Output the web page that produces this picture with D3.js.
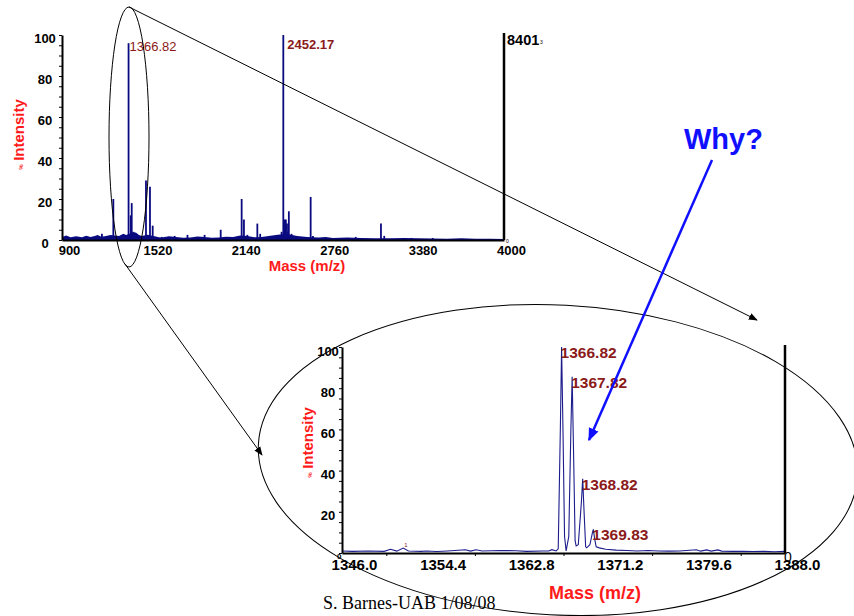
<!DOCTYPE html>
<html>
<head>
<meta charset="utf-8">
<script src="https://cdn.jsdelivr.net/npm/d3@7"></script>
<style>
  body { margin: 0; background: #fff; }
  svg { display: block; font-family: Arial, "Liberation Sans", sans-serif; }
</style>
</head>
<body>
<svg id="slide" width="854" height="616"></svg>
<script>
// full scan, stick peaks [m/z, % intensity]
var overviewPeaks = [
  [1180, 3], [1260, 20], [1366.82, 96], [1382, 12], [1389, 18], [1400, 4],
  [1410, 3.5], [1420, 3], [1489, 29], [1517, 26], [1536, 7], [1600, 1.5],
  [1690, 2], [1780, 2.5], [1900, 2.5], [2013, 5], [2160, 20], [2176, 10],
  [2200, 2.5], [2270, 8], [2290, 3], [2440, 4], [2452.17, 100], [2462, 10],
  [2470, 10], [2478, 8], [2485, 4], [2491, 14], [2510, 3], [2644, 21],
  [2660, 2], [2960, 1.5], [3137, 8], [3160, 2], [3350, 1], [3500, 1]
];
// baseline noise level along the scan
var overviewNoise = [
  [900, 1.5], [930, 2.2], [960, 1.4], [1000, 1.8], [1040, 1.3], [1070, 2.1],
  [1100, 1.5], [1130, 2.0], [1150, 2.5], [1175, 1.6], [1200, 1.8], [1240, 2.4],
  [1300, 2], [1330, 3.0], [1350, 2.5], [1400, 3.8], [1420, 3.5], [1440, 2.4],
  [1460, 2], [1500, 2.6], [1550, 1.8], [1580, 1.4], [1600, 1.2], [1650, 1.8],
  [1700, 1.5], [1750, 1.1], [1800, 1.2], [1850, 1.7], [1900, 1.5], [1950, 1.1],
  [2000, 1.2], [2050, 1.6], [2100, 1.5], [2150, 2.2], [2200, 2], [2250, 1.4],
  [2300, 1.5], [2350, 1.9], [2400, 2.5], [2470, 3.0], [2550, 2], [2620, 1.5],
  [2700, 1.2], [2750, 1.5], [2800, 1], [2900, 1.2], [3000, 1], [3100, 0.8],
  [3200, 0.8], [3300, 1.0], [3400, 0.8], [3500, 0.7], [3600, 0.6], [3700, 0.8],
  [3800, 0.6], [3900, 0.6], [4000, 0.5]
];
var overviewLabels = ["1366.82", "2452.17"];
var overviewXTicks = [900, 1520, 2140, 2760, 3380, 4000];
var intensityTicks = [0, 20, 40, 60, 80, 100];

// zoomed profile round 1366 [m/z, % intensity]
var zoomProfile = [
  [1346.0, 1.0], [1347.0, 0.8], [1348.5, 1.0], [1350.0, 0.8], [1350.6, 1.8],
  [1351.2, 0.9], [1351.8, 2.4], [1352.3, 1.0], [1353.5, 0.8], [1354.0, 1.0],
  [1355.0, 0.7], [1356.0, 1.0], [1357.7, 1.6], [1358.2, 0.9], [1358.7, 1.6],
  [1359.3, 1.0], [1361.0, 1.2], [1362.5, 1.1], [1363.5, 0.8], [1365.0, 1.0],
  [1365.6, 1.0], [1365.9, 1.6], [1366.3, 1.0], [1366.5, 2.0], [1366.7, 60],
  [1366.82, 100], [1366.95, 60], [1367.1, 8], [1367.25, 1.0], [1367.5, 8],
  [1367.7, 60], [1367.82, 85.6], [1367.95, 50], [1368.1, 6], [1368.2, 3.4],
  [1368.4, 4], [1368.7, 25], [1368.82, 36], [1368.95, 20], [1369.1, 3],
  [1369.2, 2.5], [1369.5, 4], [1369.75, 10], [1369.83, 11.5], [1369.95, 7],
  [1370.1, 3], [1370.4, 2.5], [1371.0, 1.8], [1372.0, 1.4], [1373.0, 1.2],
  [1374.0, 1.0], [1375.0, 1.2], [1376.0, 1.0], [1377.0, 0.9], [1378.0, 1.0],
  [1379.6, 1.6], [1380.0, 0.9], [1380.57, 1.5], [1381.0, 0.9], [1381.64, 1.5],
  [1382.0, 0.9], [1383.0, 0.8], [1384.0, 0.8], [1385.0, 0.7], [1386.0, 0.8],
  [1387.0, 0.6], [1388.0, 0.8]
];
var zoomLabels = [[1366.82, 100], [1367.82, 85.6], [1368.82, 36], [1369.83, 11.5]];
var zoomXTicks = [1346.0, 1354.4, 1362.8, 1371.2, 1379.6, 1388.0];

var RED = '#ff1a1a'
var DARKRED = '#8b1a1a'
var NAVY = '#0a0a80'

var svg = d3.select('#slide');

var defs = svg.append('defs');
function arrowMarker(id, color, size) {
  defs.append('marker')
    .attr('id', id)
    .attr('viewBox', '0 0 10 10')
    .attr('refX', 9).attr('refY', 5)
    .attr('markerWidth', size).attr('markerHeight', size)
    .attr('markerUnits', 'userSpaceOnUse')
    .attr('orient', 'auto')
    .append('path')
    .attr('d', 'M0,1 L10,5 L0,9 Z')
    .attr('fill', color);
}
arrowMarker('blackArrow', '#000', 9);
arrowMarker('blueArrow', '#1010ff', 13);

// ---------- overview spectrum ----------
var x1 = d3.scaleLinear().domain([900, 4000]).range([62, 504]);
var y1 = d3.scaleLinear().domain([0, 100]).range([240, 35]);

var topG = svg.append('g');

topG.append('path')
  .datum(overviewNoise)
  .attr('fill', NAVY)
  .attr('d', d3.area().x(function (d) { return x1(d[0]) }).y0(y1(0)).y1(function (d) { return y1(d[1]) }));

topG.append('g')
  .selectAll('line')
  .data(overviewPeaks)
  .join('line')
  .attr('x1', function (d) { return x1(d[0]) })
  .attr('x2', function (d) { return x1(d[0]) })
  .attr('y1', y1(0))
  .attr('y2', function (d) { return y1(d[1]) })
  .attr('stroke', NAVY)
  .attr('stroke-width', 1.8);

// left axis
var yAxis1 = topG.append('g')
  .attr('transform', 'translate(' + x1(900) + ',0)')
  .call(d3.axisLeft(y1).tickValues(intensityTicks).tickSize(0).tickPadding(0));
yAxis1.selectAll('text')
  .attr('x', -17).attr('dy', '0.85em').attr('text-anchor', 'middle')
  .attr('font-size', 13).attr('font-weight', 'bold').attr('fill', '#000')
  .attr('y', -4);
topG.append('g')
  .attr('transform', 'translate(' + x1(900) + ',0)')
  .call(d3.axisLeft(y1).tickValues(d3.range(0, 101, 5)).tickSize(3).tickFormat(''))
  .call(function (g) { g.select('.domain').remove() });

// bottom axis
var xAxis1 = topG.append('g')
  .attr('transform', 'translate(0,' + y1(0) + ')')
  .call(d3.axisBottom(x1).tickValues(overviewXTicks).tickSize(0).tickPadding(0).tickFormat(d3.format('d')));
xAxis1.selectAll('text')
  .attr('y', 15).attr('dy', 0).attr('dx', 7)
  .attr('font-size', 13).attr('font-weight', 'bold').attr('fill', '#000');

topG.selectAll('.domain').attr('stroke', '#000').attr('stroke-width', 2);

// right axis
topG.append('line')
  .attr('x1', x1(4000)).attr('x2', x1(4000))
  .attr('y1', y1(0)).attr('y2', y1(100) - 2)
  .attr('stroke', '#000').attr('stroke-width', 2.5);
topG.append('text')
  .attr('x', x1(4000) + 3).attr('y', y1(100) + 10)
  .attr('font-size', 14.5).attr('font-weight', 'bold').text('8401');
topG.append('text')
  .attr('x', x1(4000) + 36).attr('y', y1(100) + 9)
  .attr('font-size', 5).text('3');
topG.append('text')
  .attr('x', x1(4000) + 2).attr('y', y1(0) + 3)
  .attr('font-size', 5).text('0');

// peak labels
topG.append('text')
  .attr('x', x1(1366.82) + 1).attr('y', y1(100) + 16)
  .attr('font-size', 13).attr('fill', DARKRED).text(overviewLabels[0]);
topG.append('text')
  .attr('x', x1(2452.17) + 4).attr('y', y1(100) + 14)
  .attr('font-size', 13).attr('font-weight', 'bold').attr('fill', DARKRED).text(overviewLabels[1]);

// titles
topG.append('text')
  .attr('x', 307).attr('y', 271).attr('text-anchor', 'middle')
  .attr('font-size', 15).attr('font-weight', 'bold').attr('fill', RED).text('Mass (m/z)');
topG.append('text')
  .attr('transform', 'translate(24,130) rotate(-90)').attr('text-anchor', 'middle')
  .attr('font-size', 15).attr('font-weight', 'bold').attr('fill', RED).text('Intensity');
topG.append('text')
  .attr('transform', 'translate(23,167) rotate(-90)').attr('text-anchor', 'middle')
  .attr('font-size', 6).attr('font-weight', 'bold').attr('fill', RED).text('%');

// ---------- zoomed spectrum ----------
var x2 = d3.scaleLinear().domain([1346, 1388]).range([342, 785]);
var y2 = d3.scaleLinear().domain([0, 100]).range([553, 347]);

var bot = svg.append('g');

bot.append('path')
  .datum(zoomProfile)
  .attr('fill', 'none')
  .attr('stroke', '#1c1c8c')
  .attr('stroke-width', 1.1)
  .attr('d', d3.line().x(function (d) { return x2(d[0]) }).y(function (d) { return y2(d[1]) }));

var yAxis2 = bot.append('g')
  .attr('transform', 'translate(' + x2(1346) + ',0)')
  .call(d3.axisLeft(y2).tickValues(intensityTicks.slice(1)).tickSize(0).tickPadding(0));
yAxis2.selectAll('text')
  .attr('x', -14).attr('dy', '0.85em').attr('text-anchor', 'middle')
  .attr('font-size', 13).attr('font-weight', 'bold').attr('fill', '#000')
  .attr('y', -3);
bot.append('g')
  .attr('transform', 'translate(' + x2(1346) + ',0)')
  .call(d3.axisLeft(y2).tickValues(d3.range(0, 101, 5)).tickSize(3).tickFormat(''))
  .call(function (g) { g.select('.domain').remove() });

var xAxis2 = bot.append('g')
  .attr('transform', 'translate(0,' + y2(0) + ')')
  .call(d3.axisBottom(x2).tickValues(zoomXTicks).tickSize(0).tickPadding(0).tickFormat(d3.format('.1f')));
xAxis2.selectAll('text')
  .attr('y', 17).attr('dy', 0).attr('dx', 12)
  .attr('font-size', 15).attr('font-weight', 'bold').attr('fill', '#000');
bot.append('g')
  .attr('transform', 'translate(0,' + y2(0) + ')')
  .call(d3.axisBottom(x2).tickValues(d3.range(1350.2, 1388, 8.4)).tickSize(3).tickFormat(''))
  .call(function (g) { g.select('.domain').remove() });

bot.selectAll('.domain').attr('stroke', '#000').attr('stroke-width', 2);

bot.append('line')
  .attr('x1', x2(1388)).attr('x2', x2(1388))
  .attr('y1', y2(0)).attr('y2', y2(100) - 2)
  .attr('stroke', '#000').attr('stroke-width', 2.5);
// zero labels crowd the first and last mass ticks, as in the source slide
bot.append('text')
  .attr('x', x2(1346) - 5).attr('y', y2(0) + 6)
  .attr('font-size', 8).attr('font-weight', 'bold').text('0');
bot.append('text')
  .attr('x', x2(1388) - 1).attr('y', y2(0) + 9)
  .attr('font-size', 14).text('0');
bot.append('text')
  .attr('x', x2(1351.8) + 1).attr('y', y2(2.4) - 1)
  .attr('font-size', 6).attr('fill', DARKRED).text('1');

bot.append('g')
  .selectAll('text')
  .data(zoomLabels)
  .join('text')
  .attr('x', function (d) { return x2(d[0]) - 1 })
  .attr('y', function (d) { return y2(d[1]) + 11 })
  .attr('font-size', 15.5).attr('font-weight', 'bold').attr('fill', DARKRED)
  .text(function (d) { return d3.format('.2f')(d[0]) });

bot.append('text')
  .attr('x', 595).attr('y', 599).attr('text-anchor', 'middle')
  .attr('font-size', 18).attr('font-weight', 'bold').attr('fill', RED).text('Mass (m/z)');
bot.append('text')
  .attr('transform', 'translate(313,438) rotate(-90)').attr('text-anchor', 'middle')
  .attr('font-size', 15).attr('font-weight', 'bold').attr('fill', RED).text('Intensity');
bot.append('text')
  .attr('transform', 'translate(312,475) rotate(-90)').attr('text-anchor', 'middle')
  .attr('font-size', 6).attr('font-weight', 'bold').attr('fill', RED).text('%');

// ---------- annotations ----------
var ann = svg.append('g').attr('fill', 'none');
ann.append('ellipse')
  .attr('cx', 129).attr('cy', 137).attr('rx', 20).attr('ry', 130)
  .attr('stroke', '#000').attr('stroke-width', 1);
ann.append('ellipse')
  .attr('cx', 558).attr('cy', 460).attr('rx', 300).attr('ry', 155)
  .attr('transform', 'rotate(3,558,460)')
  .attr('stroke', '#000').attr('stroke-width', 1);
ann.append('line')
  .attr('x1', 129).attr('y1', 7).attr('x2', 757).attr('y2', 320)
  .attr('stroke', '#000').attr('stroke-width', 1)
  .attr('marker-end', 'url(#blackArrow)');
ann.append('line')
  .attr('x1', 125).attr('y1', 264).attr('x2', 262).attr('y2', 455)
  .attr('stroke', '#000').attr('stroke-width', 1)
  .attr('marker-end', 'url(#blackArrow)');
ann.append('line')
  .attr('x1', 712).attr('y1', 160).attr('x2', 589).attr('y2', 440)
  .attr('stroke', '#1010ff').attr('stroke-width', 2.5)
  .attr('marker-end', 'url(#blueArrow)');

svg.append('text')
  .attr('x', 684).attr('y', 149)
  .attr('font-size', 29).attr('font-weight', 'bold').attr('fill', '#1010ff').text('Why?');

svg.append('text')
  .attr('x', 323).attr('y', 609)
  .attr('font-family', '"Liberation Serif", "Times New Roman", serif')
  .attr('font-size', 18).attr('fill', '#000').text('S. Barnes-UAB 1/08/08');
</script>
</body>
</html>
